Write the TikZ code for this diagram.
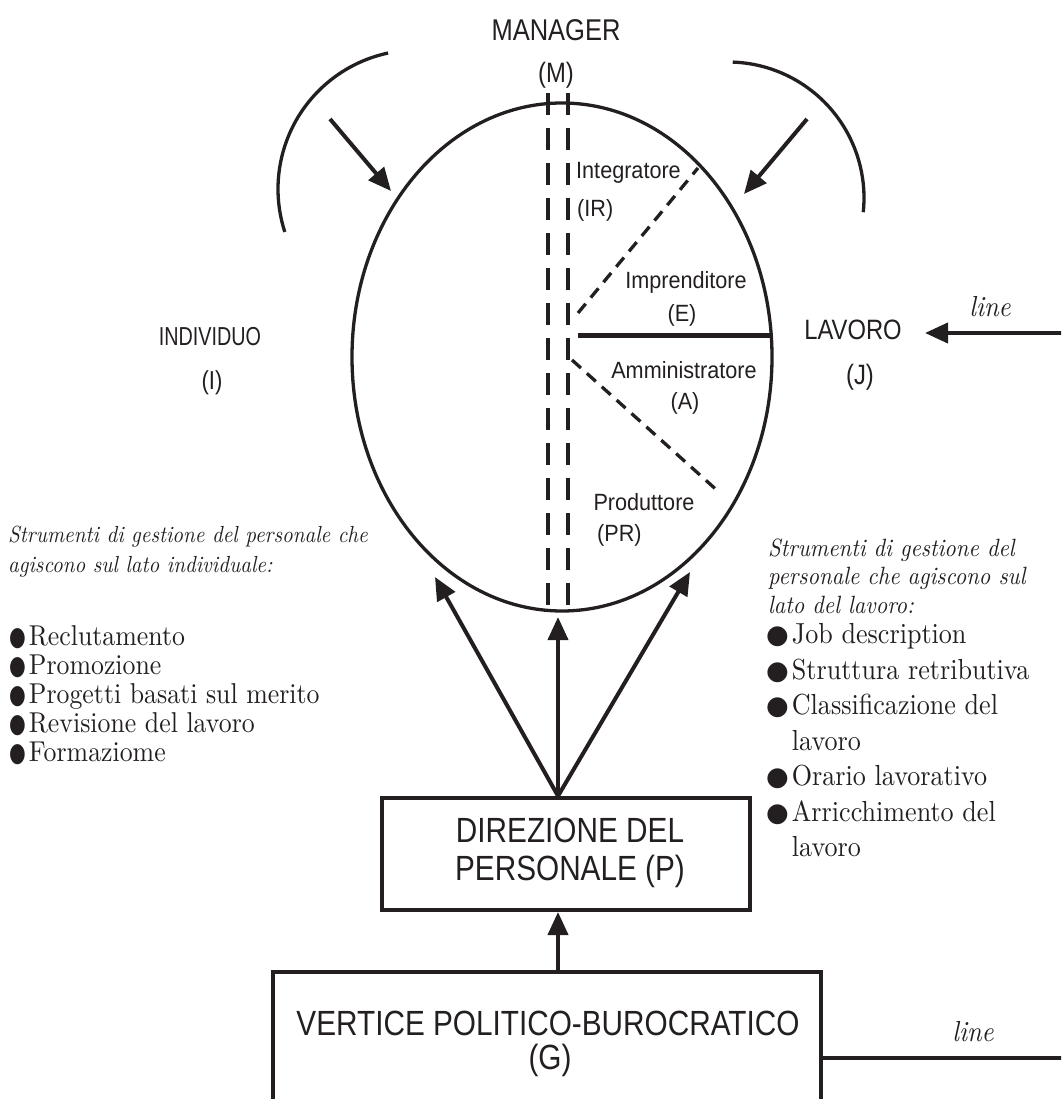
\documentclass[tikz,border=0pt]{standalone}
\usepackage{fontspec}
\usetikzlibrary{shapes.geometric,arrows.meta}
\newfontfamily\sansf[FakeStretch=0.92]{Liberation Sans}
\newfontfamily\sansn[FakeStretch=0.85]{Liberation Sans}
\newfontfamily\sansc[FakeStretch=0.76]{Liberation Sans}
\newfontfamily\garf[Extension=.otf, UprightFont=*-regular, ItalicFont=*-italic, FakeStretch=0.9]{lmroman10}
\newfontfamily\symf{DejaVu Sans}
\definecolor{ink}{HTML}{231F20}
\newcommand\myrbul{{\symf\fontsize{26}{26}\selectfont ●}\hspace{3pt}}
\newcommand\mylbul{\scalebox{0.8}[1.1]{\symf\fontsize{24}{24}\selectfont ●}\hspace{3pt}}
\begin{document}
\begin{tikzpicture}[x=1pt,y=1pt,color=ink,
  sanslab/.style={font=\sansf\fontsize{23.5}{27}\selectfont, inner sep=0pt},
  sansbig/.style={font=\sansn\fontsize{28}{32}\selectfont, inner sep=0pt},
  boxtext/.style={font=\sansn\fontsize{35}{38}\selectfont, inner sep=0pt, align=center},
  itext/.style={font=\garf\itshape\fontsize{23.3}{30}\selectfont, inner sep=0pt, align=left},
  ritext/.style={font=\garf\itshape\fontsize{25}{28.5}\selectfont, inner sep=0pt, align=left},
  ltext/.style={font=\garf\fontsize{28.7}{29}\selectfont, inner sep=0pt, align=left},
  rtext/.style={font=\garf\fontsize{29}{35.5}\selectfont, inner sep=0pt, align=left},
  linelab/.style={font=\garf\itshape\fontsize{29}{30}\selectfont, inner sep=0pt},
  thickline/.style={line width=3.3pt},
  arr/.style={line width=4pt, -{Triangle[length=23pt,width=20pt]}},
  dashv/.style={line width=3.3pt, dash pattern=on 22pt off 13pt},
  dashd/.style={line width=3.3pt, dash pattern=on 12pt off 8pt},
  boxst/.style={draw, line width=4pt, inner sep=0pt}]
\useasboundingbox (0,0) rectangle (1061,-1099);
\begin{scope}
\clip (0,0) rectangle (1061,-1099);

% top labels
\node[sansbig, font=\sansn\fontsize{30}{32}\selectfont] (mgr) at (556,-30) {MANAGER};
\node[sansbig] (mlab) at (556,-75) {(M)};

% ellipse
\node[ellipse, draw, thickline, minimum width=420pt, minimum height=508pt, inner sep=0pt] (E) at (562,-357) {};

% vertical dashed lines
\draw[dashv] (548,-93) -- (548,-610);
\draw[dashv] (568,-93) -- (568,-610);

% inner division lines
\draw[dashd] (578,-313) -- (698,-168);
\draw[dashd] (572,-360) -- (720,-493);
\coordinate (solidR) at (771.5,-335);
\draw[line width=5pt] (578,-335) -- (solidR);

% inner labels
\node[sanslab, anchor=west] (ir) at (576,-173) {Integratore};
\node[sanslab, anchor=west] (irc) at (577,-210) {(IR)};
\node[sanslab] (imp) at (686,-282) {Imprenditore};
\node[sanslab] (elab) at (682,-315) {(E)};
\node[sanslab] (amm) at (684,-370) {Amministratore};
\node[sanslab] (alab) at (685,-403) {(A)};
\node[sanslab] (prod) at (644,-502) {Produttore};
\node[sanslab, anchor=west] (prc) at (597,-535) {(PR)};

% side labels
\node[sansbig, font=\sansc\fontsize{26}{28}\selectfont] (ind) at (210,-337) {INDIVIDUO};
\node[sansbig, font=\sansn\fontsize{26}{28}\selectfont] (ilab) at (212,-383) {(I)};
\node[sansbig] (lav) at (853,-330) {LAVORO};
\node[sansbig] (jlab) at (860,-377) {(J)};

% side arcs
\draw[thickline] (417,-189) ++(102:139) arc (102:198:139);
\draw[thickline] (728,-198) ++(88:136) arc (88:-6:136);

% top arrows
\coordinate (tlA) at (330,-119);
\coordinate (tlB) at (391,-191);
\coordinate (trA) at (807,-119);
\coordinate (trB) at (744,-194);
\draw[arr] (tlA) -- (tlB);
\draw[arr] (trA) -- (trB);

% line arrow to LAVORO
\coordinate (lineR) at (1065,-333);
\coordinate (lineTip) at (925,-333);
\draw[arr] (lineR) -- (lineTip);
\node[linelab] (line1) at (990,-307) {line};

% left texts
\node[itext, anchor=west] (lhead) at (8,-552) {Strumenti di gestione del personale che\\agiscono sul lato individuale:};
\node[ltext, anchor=west] (llist) at (9,-695) {\mylbul Reclutamento\\ \mylbul Promozione\\ \mylbul Progetti basati sul merito\\ \mylbul Revisione del lavoro\\ \mylbul Formaziome};

% right texts
\node[ritext, anchor=west] (rhead) at (768,-576) {Strumenti di gestione del\\personale che agiscono sul\\lato del lavoro:};
\node[rtext, anchor=west] (rlist) at (766,-742) {\myrbul Job description\\ \myrbul Struttura retributiva\\ \myrbul Classificazione del\\ \phantom{\myrbul}lavoro\\ \myrbul Orario lavorativo\\ \myrbul Arricchimento del\\ \phantom{\myrbul}lavoro};

% boxes
\node[boxst, minimum width=368pt, minimum height=112pt] (P) at (566,-854) {};
\node[boxtext] (ptext) at (570,-853) {DIREZIONE DEL\\PERSONALE (P)};
\node[boxst, minimum width=548pt, minimum height=200pt, anchor=north] (G) at (547,-970) {};
\node[boxtext] (gtext1) at (548,-1023) {VERTICE POLITICO-BUROCRATICO};
\node[boxtext] (gtext2) at (550,-1060) {(G)};

% arrows from P
\coordinate (ax) at (558,0);
\coordinate (tipL) at (435,-577);
\coordinate (tipM) at (558,-617);
\coordinate (tipR) at (690,-572);
\draw[arr] (ax |- P.north) -- (tipL);
\draw[arr] (ax |- P.north) -- (tipM);
\draw[arr] (ax |- P.north) -- (tipR);
\draw[arr] (ax |- G.north) -- (ax |- P.south);

% line from G
\coordinate (gline) at (1065,-1058);
\draw[line width=4pt] (G.east |- gline) -- (gline);
\node[linelab] (line2) at (973,-1032) {line};
\end{scope}
\end{tikzpicture}
\end{document}
